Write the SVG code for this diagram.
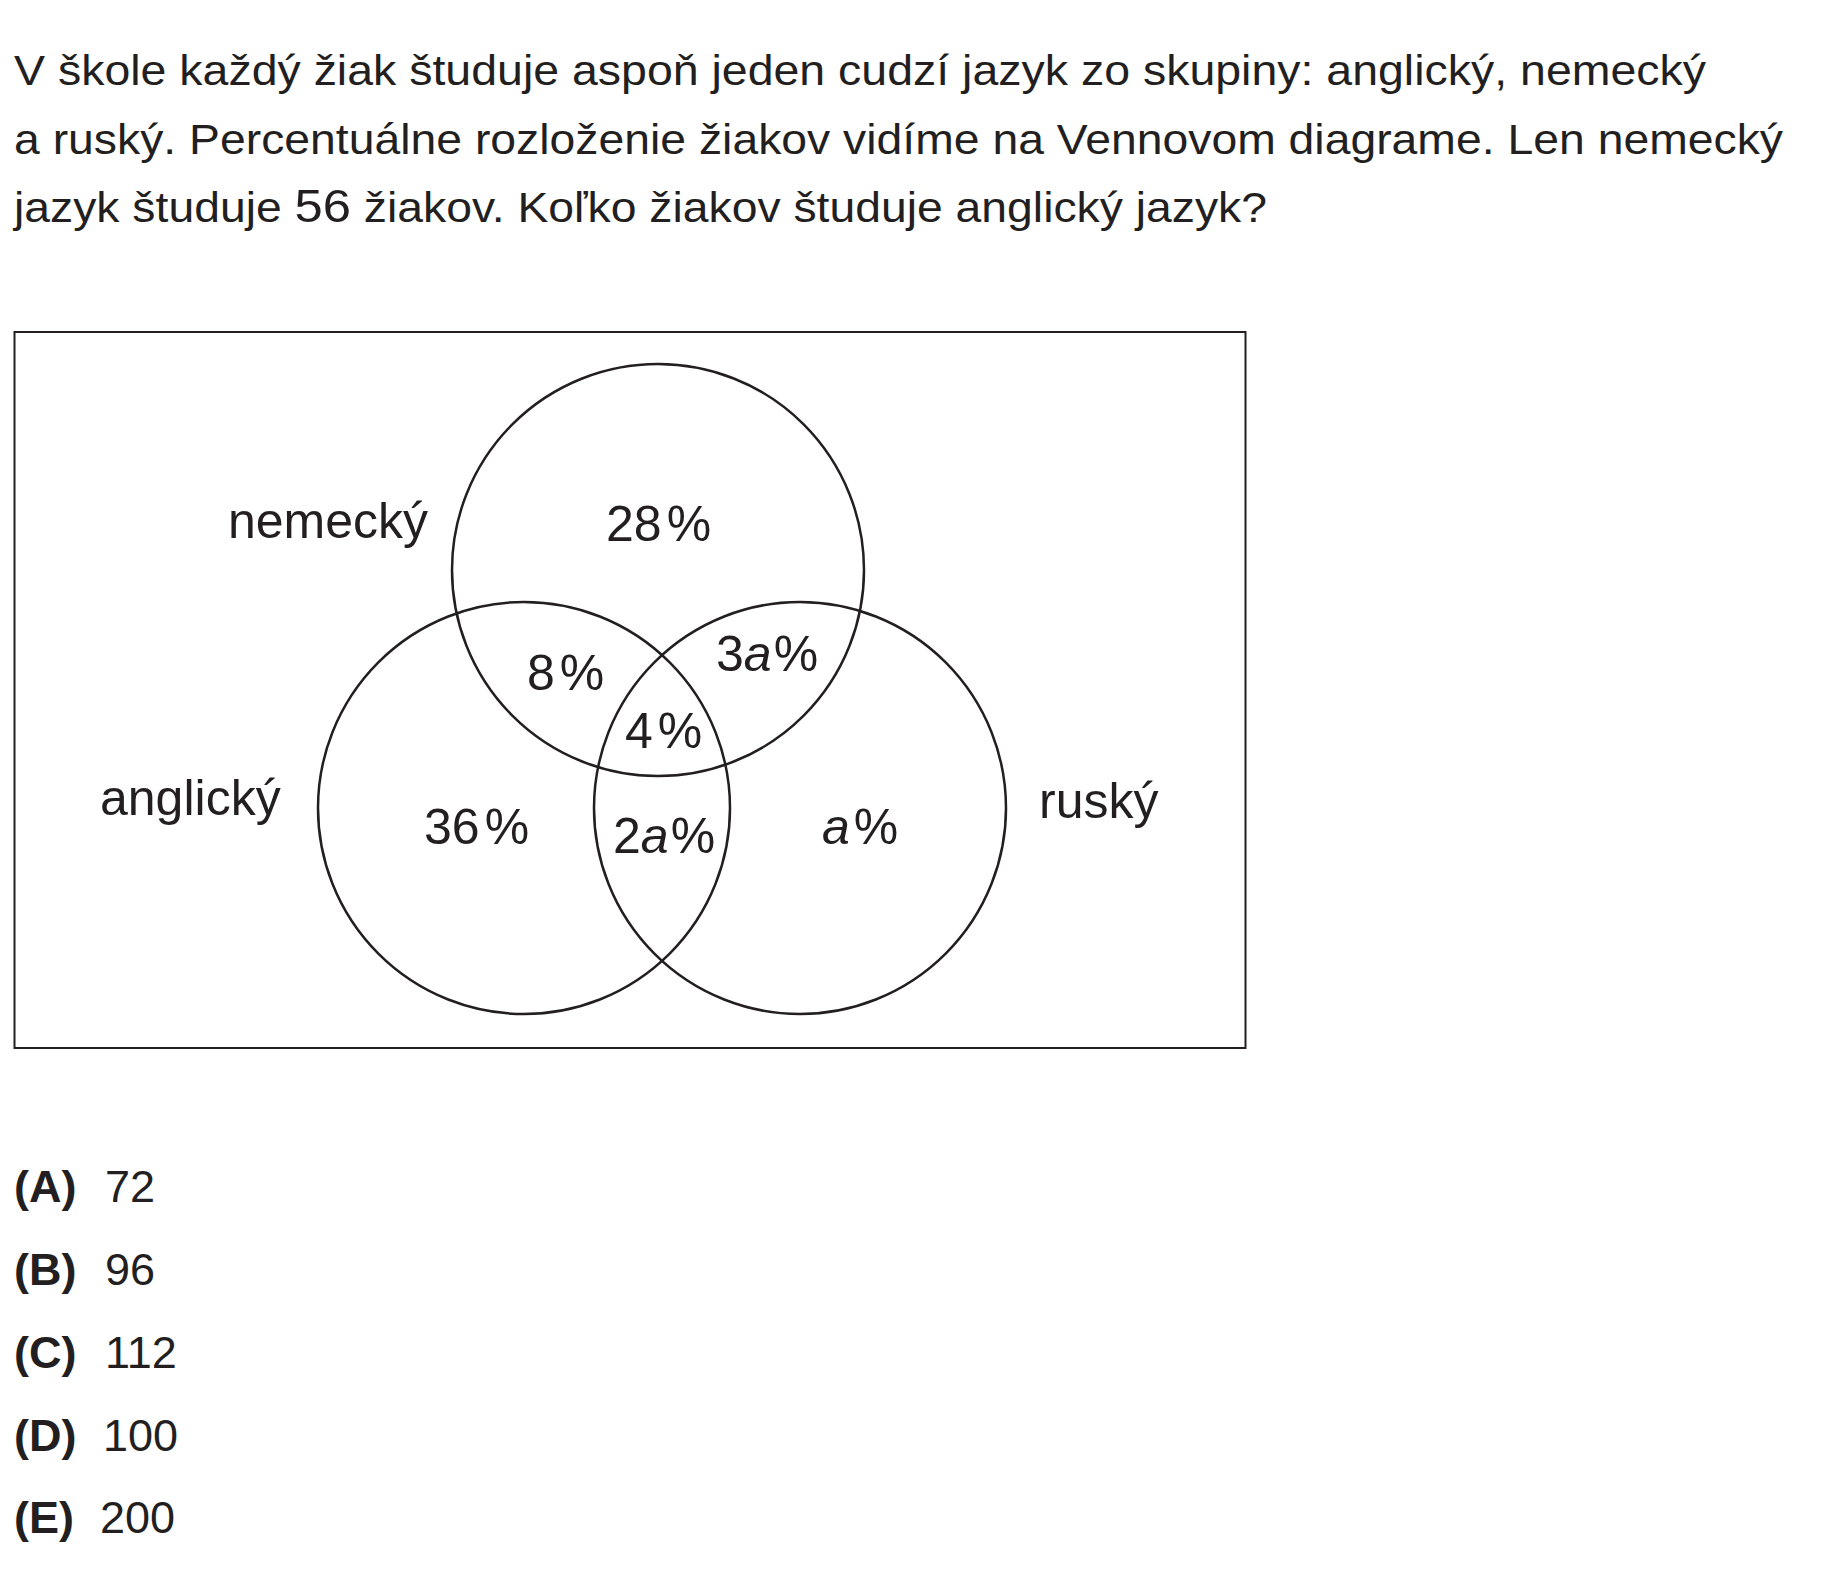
<svg xmlns="http://www.w3.org/2000/svg" width="1838" height="1580" viewBox="0 0 1838 1580">
<style>
text{font-family:"Liberation Sans",Arial,sans-serif;fill:#231f20}
.q{font-size:42px}
.l{font-size:50px}
.ans{font-size:45px}
.b{font-weight:bold}
.i{font-style:italic}
.c{fill:none;stroke:#231f20;stroke-width:2.5}
</style>
<rect width="1838" height="1580" fill="#fff"/>
<g id="question">
<text class="q" x="14" y="85" textLength="1692" lengthAdjust="spacingAndGlyphs">V škole každý žiak študuje aspoň jeden cudzí jazyk zo skupiny: anglický, nemecký</text>
<text class="q" x="14" y="153.5" textLength="1769" lengthAdjust="spacingAndGlyphs">a ruský. Percentuálne rozloženie žiakov vidíme na Vennovom diagrame. Len nemecký</text>
<text class="q" x="14" y="222" textLength="1253" lengthAdjust="spacingAndGlyphs">jazyk študuje <tspan font-size="46">56</tspan> žiakov. Koľko žiakov študuje anglický jazyk?</text>
</g>
<g id="frame"><rect x="14.5" y="332" width="1231" height="716" fill="none" stroke="#231f20" stroke-width="2"/></g>
<g id="set-nemecky">
<circle class="c" cx="658" cy="570" r="206"/>
<text class="l" x="228" y="538">nemecký</text>
</g>
<g id="set-anglicky">
<circle class="c" cx="524" cy="808" r="206"/>
<text class="l" x="100" y="815">anglický</text>
</g>
<g id="set-rusky">
<circle class="c" cx="800" cy="808" r="206"/>
<text class="l" x="1039" y="818">ruský</text>
</g>
<g id="regions">
<text class="l" x="606" y="541">28<tspan dx="5">%</tspan></text>
<text class="l" x="527" y="690">8<tspan dx="5">%</tspan></text>
<text class="l" x="716" y="671">3<tspan class="i">a</tspan><tspan dx="2">%</tspan></text>
<text class="l" x="625" y="748">4<tspan dx="5">%</tspan></text>
<text class="l" x="424" y="844">36<tspan dx="5">%</tspan></text>
<text class="l" x="613" y="853">2<tspan class="i">a</tspan><tspan dx="2">%</tspan></text>
<text class="l" x="822" y="844"><tspan class="i">a</tspan><tspan dx="4">%</tspan></text>
</g>
<g id="answers">
<text class="ans b" x="14" y="1202">(A)</text><text class="ans" x="105" y="1202">72</text>
<text class="ans b" x="14" y="1285">(B)</text><text class="ans" x="105" y="1285">96</text>
<text class="ans b" x="14" y="1368">(C)</text><text class="ans" x="105" y="1368">112</text>
<text class="ans b" x="14" y="1451">(D)</text><text class="ans" x="103" y="1451">100</text>
<text class="ans b" x="14" y="1533">(E)</text><text class="ans" x="100" y="1533">200</text>
</g>
</svg>
